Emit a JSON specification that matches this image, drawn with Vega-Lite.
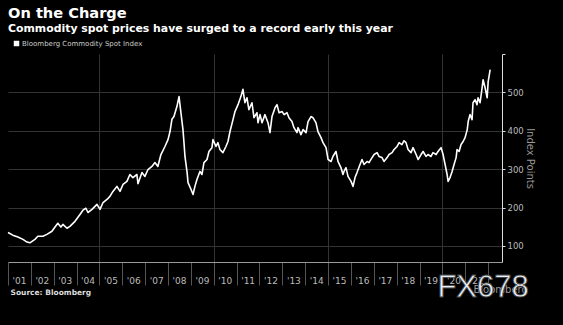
{
  "$schema": "https://vega.github.io/schema/vega-lite/v6.json",
  "width": 494,
  "height": 208,
  "autosize": {"type": "none"},
  "padding": {"left": 8, "top": 54, "right": 61, "bottom": 63},
  "background": "#000000",
  "config": {
    "font": "DejaVu Sans",
    "view": {"stroke": null},
    "title": {"color": "#ffffff", "subtitleColor": "#ffffff"}
  },
  "title": {
    "text": "On the Charge",
    "subtitle": "Commodity spot prices have surged to a record early this year",
    "anchor": "start",
    "frame": "group",
    "fontSize": 14.6,
    "fontWeight": "bold",
    "subtitleFontSize": 10.9,
    "subtitleFontWeight": "bold",
    "subtitlePadding": 3,
    "offset": 6
  },
  "layer": [
    {
      "data": {"values": [
        {"date": "2001-01-01", "value": 135}, {"date": "2001-03-19", "value": 128}, {"date": "2001-06-08", "value": 123},
        {"date": "2001-08-28", "value": 117}, {"date": "2001-11-01", "value": 110}, {"date": "2001-12-17", "value": 108},
        {"date": "2002-03-07", "value": 117}, {"date": "2002-04-23", "value": 125}, {"date": "2002-07-13", "value": 125},
        {"date": "2002-09-15", "value": 130}, {"date": "2002-12-04", "value": 138}, {"date": "2003-01-22", "value": 149},
        {"date": "2003-03-08", "value": 159}, {"date": "2003-04-25", "value": 149}, {"date": "2003-05-28", "value": 156},
        {"date": "2003-08-01", "value": 146}, {"date": "2003-09-17", "value": 151}, {"date": "2003-12-07", "value": 164},
        {"date": "2004-02-25", "value": 182}, {"date": "2004-04-12", "value": 193}, {"date": "2004-05-29", "value": 198},
        {"date": "2004-07-01", "value": 187}, {"date": "2004-09-04", "value": 195}, {"date": "2004-11-22", "value": 208},
        {"date": "2005-01-10", "value": 195}, {"date": "2005-02-27", "value": 213}, {"date": "2005-05-01", "value": 221},
        {"date": "2005-06-17", "value": 229}, {"date": "2005-08-04", "value": 242}, {"date": "2005-10-07", "value": 255},
        {"date": "2005-11-25", "value": 242}, {"date": "2006-01-12", "value": 260}, {"date": "2006-03-16", "value": 268},
        {"date": "2006-05-02", "value": 286}, {"date": "2006-06-19", "value": 278}, {"date": "2006-08-22", "value": 286},
        {"date": "2006-09-08", "value": 262}, {"date": "2006-11-11", "value": 291}, {"date": "2006-12-28", "value": 281},
        {"date": "2007-02-15", "value": 299}, {"date": "2007-04-19", "value": 307}, {"date": "2007-06-06", "value": 317},
        {"date": "2007-07-23", "value": 307}, {"date": "2007-09-10", "value": 338}, {"date": "2007-11-13", "value": 359},
        {"date": "2008-01-01", "value": 377}, {"date": "2008-02-02", "value": 398}, {"date": "2008-03-04", "value": 430},
        {"date": "2008-04-05", "value": 437}, {"date": "2008-05-22", "value": 463}, {"date": "2008-06-25", "value": 489},
        {"date": "2008-07-25", "value": 447}, {"date": "2008-08-27", "value": 403}, {"date": "2008-09-12", "value": 369},
        {"date": "2008-09-28", "value": 333}, {"date": "2008-11-01", "value": 291}, {"date": "2008-11-16", "value": 265},
        {"date": "2009-01-03", "value": 247}, {"date": "2009-02-04", "value": 234}, {"date": "2009-03-06", "value": 255},
        {"date": "2009-04-07", "value": 273}, {"date": "2009-05-25", "value": 294}, {"date": "2009-06-26", "value": 286},
        {"date": "2009-07-28", "value": 317}, {"date": "2009-09-15", "value": 325}, {"date": "2009-10-16", "value": 346},
        {"date": "2009-12-03", "value": 356}, {"date": "2009-12-19", "value": 377}, {"date": "2010-02-06", "value": 359},
        {"date": "2010-03-08", "value": 369}, {"date": "2010-04-09", "value": 351}, {"date": "2010-05-27", "value": 343},
        {"date": "2010-07-14", "value": 359}, {"date": "2010-08-16", "value": 372}, {"date": "2010-09-17", "value": 398},
        {"date": "2010-11-04", "value": 429}, {"date": "2010-12-06", "value": 450}, {"date": "2011-01-23", "value": 468},
        {"date": "2011-03-10", "value": 489}, {"date": "2011-04-12", "value": 508}, {"date": "2011-05-13", "value": 473},
        {"date": "2011-06-15", "value": 486}, {"date": "2011-07-16", "value": 455}, {"date": "2011-09-03", "value": 473},
        {"date": "2011-10-05", "value": 434}, {"date": "2011-11-22", "value": 447}, {"date": "2011-12-08", "value": 421},
        {"date": "2012-01-10", "value": 442}, {"date": "2012-02-11", "value": 421}, {"date": "2012-03-28", "value": 442},
        {"date": "2012-05-16", "value": 421}, {"date": "2012-06-17", "value": 395}, {"date": "2012-07-19", "value": 437},
        {"date": "2012-09-06", "value": 460}, {"date": "2012-10-07", "value": 468}, {"date": "2012-11-09", "value": 447},
        {"date": "2012-12-26", "value": 450}, {"date": "2013-01-28", "value": 442}, {"date": "2013-03-16", "value": 447},
        {"date": "2013-04-16", "value": 434}, {"date": "2013-06-03", "value": 424}, {"date": "2013-07-05", "value": 408},
        {"date": "2013-08-22", "value": 395}, {"date": "2013-09-08", "value": 408}, {"date": "2013-10-25", "value": 390},
        {"date": "2013-11-27", "value": 403}, {"date": "2014-01-14", "value": 395}, {"date": "2014-02-15", "value": 424},
        {"date": "2014-04-03", "value": 437}, {"date": "2014-05-04", "value": 434}, {"date": "2014-06-21", "value": 421},
        {"date": "2014-07-23", "value": 398}, {"date": "2014-09-10", "value": 382}, {"date": "2014-10-12", "value": 369},
        {"date": "2014-11-29", "value": 356}, {"date": "2015-01-01", "value": 325}, {"date": "2015-02-18", "value": 320},
        {"date": "2015-03-19", "value": 333}, {"date": "2015-05-07", "value": 346}, {"date": "2015-06-08", "value": 320},
        {"date": "2015-07-25", "value": 304}, {"date": "2015-08-27", "value": 286}, {"date": "2015-09-12", "value": 294},
        {"date": "2015-10-14", "value": 304}, {"date": "2015-11-15", "value": 281}, {"date": "2016-01-03", "value": 268},
        {"date": "2016-02-04", "value": 255}, {"date": "2016-03-06", "value": 278}, {"date": "2016-04-07", "value": 291},
        {"date": "2016-05-25", "value": 312}, {"date": "2016-06-26", "value": 325}, {"date": "2016-07-28", "value": 312},
        {"date": "2016-09-15", "value": 320}, {"date": "2016-10-16", "value": 317}, {"date": "2016-12-03", "value": 330},
        {"date": "2017-01-05", "value": 338}, {"date": "2017-02-22", "value": 343}, {"date": "2017-03-24", "value": 333},
        {"date": "2017-05-11", "value": 330}, {"date": "2017-06-12", "value": 320}, {"date": "2017-08-01", "value": 330},
        {"date": "2017-09-01", "value": 338}, {"date": "2017-10-19", "value": 343}, {"date": "2017-11-20", "value": 351},
        {"date": "2018-01-07", "value": 359}, {"date": "2018-02-09", "value": 369}, {"date": "2018-03-26", "value": 364},
        {"date": "2018-04-28", "value": 374}, {"date": "2018-05-30", "value": 369}, {"date": "2018-07-01", "value": 351},
        {"date": "2018-08-18", "value": 343}, {"date": "2018-09-19", "value": 356}, {"date": "2018-11-07", "value": 338},
        {"date": "2018-12-09", "value": 325}, {"date": "2019-01-25", "value": 338}, {"date": "2019-02-27", "value": 346},
        {"date": "2019-04-14", "value": 333}, {"date": "2019-05-16", "value": 338}, {"date": "2019-07-03", "value": 333},
        {"date": "2019-08-04", "value": 343}, {"date": "2019-09-22", "value": 338}, {"date": "2019-10-23", "value": 346},
        {"date": "2019-12-10", "value": 356}, {"date": "2020-01-12", "value": 338}, {"date": "2020-02-13", "value": 312},
        {"date": "2020-03-16", "value": 286}, {"date": "2020-04-01", "value": 268}, {"date": "2020-05-02", "value": 278},
        {"date": "2020-06-04", "value": 294}, {"date": "2020-07-05", "value": 312}, {"date": "2020-08-07", "value": 330},
        {"date": "2020-08-22", "value": 351}, {"date": "2020-09-24", "value": 346}, {"date": "2020-10-25", "value": 364},
        {"date": "2020-11-27", "value": 372}, {"date": "2020-12-28", "value": 382}, {"date": "2021-02-01", "value": 403},
        {"date": "2021-02-16", "value": 424}, {"date": "2021-03-17", "value": 442}, {"date": "2021-04-19", "value": 429},
        {"date": "2021-05-04", "value": 473}, {"date": "2021-06-06", "value": 481}, {"date": "2021-07-07", "value": 468},
        {"date": "2021-07-23", "value": 486}, {"date": "2021-08-25", "value": 473}, {"date": "2021-09-26", "value": 512},
        {"date": "2021-10-12", "value": 533}, {"date": "2021-11-13", "value": 512}, {"date": "2021-12-16", "value": 486},
        {"date": "2022-01-01", "value": 528}, {"date": "2022-02-02", "value": 559}
      ]},
      "mark": {"type": "line", "strokeWidth": 1.6, "strokeJoin": "round"},
      "encoding": {
        "x": {
          "field": "date", "type": "temporal",
          "scale": {"domain": ["2001-01-01", "2022-08-10"]},
          "axis": {
            "format": "'%y",
            "tickCount": {"interval": "year", "step": 1},
            "labelExpr": "year(datum.value) >= 2022 ? '' : datum.label",
            "labelOffset": 11,
            "labelFlush": false,
            "labelOverlap": false,
            "labelFontSize": 9,
            "labelColor": "#bbbbbb",
            "labelPadding": -9,
            "tickSize": 23,
            "tickColor": "#555555",
            "domainColor": "#999999",
            "grid": true,
            "gridColor": "#333333",
            "gridOpacity": {"condition": {"test": "year(datum.value) % 5 != 0", "value": 0}, "value": 1},
            "title": "Source: Bloomberg",
            "titleFontSize": 7.5,
            "titleFontWeight": "bold",
            "titleColor": "#dddddd",
            "titleAnchor": "start",
            "titleAlign": "left",
            "titleBaseline": "middle",
            "titleX": 2,
            "titleY": 30
          }
        },
        "y": {
          "field": "value", "type": "quantitative",
          "scale": {"domain": [58, 600], "nice": false, "zero": false},
          "axis": {
            "orient": "right",
            "values": [100, 200, 300, 400, 500, 600],
            "labelExpr": "datum.value == 600 ? '' : datum.label",
            "labelFontSize": 8.5,
            "labelColor": "#bbbbbb",
            "labelPadding": 2,
            "tickSize": 3,
            "tickColor": "#dddddd",
            "domainColor": "#dddddd",
            "grid": true,
            "gridColor": "#333333",
            "gridOpacity": {"condition": {"test": "datum.value == 600", "value": 0}, "value": 1},
            "title": "Index Points",
            "titleFontSize": 10,
            "titleFontWeight": "normal",
            "titleColor": "#999999",
            "titleAngle": 90,
            "titleAlign": "center",
            "titleBaseline": "middle",
            "titleX": 27,
            "titleY": 104
          }
        },
        "color": {
          "datum": "Bloomberg Commodity Spot Index",
          "scale": {"range": ["#ffffff"]},
          "legend": {
            "orient": "none",
            "legendX": 5,
            "legendY": -14,
            "title": null,
            "symbolType": "square",
            "symbolSize": 30,
            "symbolFillColor": "#ffffff",
            "symbolStrokeWidth": 0,
            "labelFontSize": 7,
            "labelColor": "#cccccc",
            "labelOffset": 2,
            "padding": 0
          }
        }
      }
    },
    {
      "data": {"values": [{}]},
      "mark": {"type": "text", "fontSize": 10, "color": "#999999", "align": "center", "baseline": "middle"},
      "encoding": {
        "x": {"datum": {"year": 2022, "month": 7, "date": 20}, "type": "temporal"},
        "y": {"datum": -15, "type": "quantitative"},
        "text": {"value": "Bloomberg"}
      }
    },
    {
      "data": {"values": [{}]},
      "mark": {"type": "text", "fontSize": 31, "font": "Liberation Sans", "color": "#e8eff8", "stroke": "#444444", "strokeWidth": 0.8, "align": "center", "baseline": "middle"},
      "encoding": {
        "x": {"datum": {"year": 2021, "month": 10, "date": 12}, "type": "temporal"},
        "y": {"datum": -10, "type": "quantitative"},
        "text": {"value": "FX678"}
      }
    }
  ]
}
